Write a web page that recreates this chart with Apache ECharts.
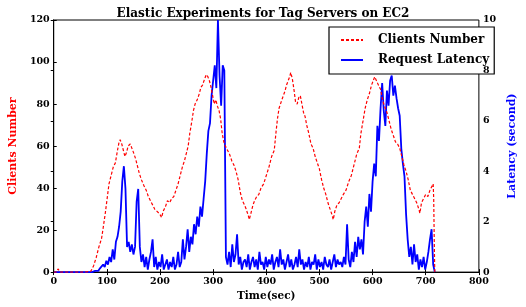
<!DOCTYPE html>
<html>
<head>
<meta charset="utf-8">
<script src="https://cdn.jsdelivr.net/npm/echarts@6/dist/echarts.min.js"></script>
<style>
  html, body { margin: 0; padding: 0; background: #fff; }
  #chart { width: 526px; height: 307px; }
</style>
</head>
<body>
<div id="chart"></div>
<script>
// ---------------- data ----------------
// clients number (left axis), time in seconds
const clientTimes = [0, 5, 8, 10, 12, 20, 30, 40, 50, 60, 70, 75, 80, 85, 90, 93, 97, 100, 104, 108,
  112, 116, 120, 123, 125, 128, 131, 134, 137, 140, 144, 147, 150, 154, 157, 161, 165, 170, 174, 178,
  182, 186, 190, 194, 198, 201, 203, 206, 210, 214, 218, 222, 226, 230, 234, 238, 242, 246, 250, 253,
  256, 260, 263, 266, 270, 274, 277, 280, 284, 287, 290, 293, 296, 299, 302, 305, 308, 311, 314, 317,
  320, 323, 327, 331, 335, 339, 343, 347, 351, 355, 359, 362, 366, 368, 371, 375, 378, 382, 386, 390,
  395, 400, 405, 410, 415, 418, 421, 424, 428, 432, 435, 438, 441, 444, 446, 449, 452, 455, 458, 461,
  464, 467, 470, 473, 476, 480, 484, 488, 492, 496, 500, 504, 508, 512, 516, 520, 524, 526, 529, 533,
  537, 541, 545, 550, 555, 560, 565, 570, 575, 578, 582, 586, 590, 594, 598, 601, 604, 607, 611, 615,
  618, 621, 624, 627, 631, 635, 639, 643, 647, 651, 655, 659, 663, 667, 671, 675, 679, 683, 687, 689,
  692, 696, 700, 704, 708, 712, 714, 715, 716, 717];
const clientValues = [0, 0, 1.5, 1, 0, 0, 0, 0, 0, 0, 0.5, 3, 7, 12, 16, 21, 28, 34, 42, 46,
  50, 52, 58, 62, 63, 61, 58, 55, 57, 60, 61, 59, 57, 54, 51, 47, 44, 41, 39, 36,
  34, 32, 30, 29, 28, 27, 26, 29, 31, 34, 33, 35, 36, 39, 42, 46, 50, 53, 57, 60,
  66, 72, 77, 80, 82, 85, 88, 89, 92, 94, 93, 91, 88, 84, 80, 82, 79, 77, 73, 66,
  62, 60, 58, 56, 53, 51, 48, 44, 38, 34, 32, 30, 27, 25, 28, 32, 34, 36, 37, 40,
  42, 46, 50, 55, 58, 66, 73, 78, 81, 84, 86, 89, 91, 93, 95, 92, 87, 81, 80, 83,
  84, 80, 76, 74, 70, 66, 61, 59, 55, 52, 49, 44, 40, 37, 33, 30, 27, 25, 29, 32,
  33, 35, 37, 39, 43, 46, 51, 56, 59, 66, 72, 78, 82, 85, 89, 91, 93, 93, 89, 87,
  83, 80, 78, 76, 72, 68, 65, 62, 61, 59, 55, 51, 48, 44, 39, 37, 35, 33, 30, 28,
  33, 35, 37, 36, 39, 41, 42, 35, 15, 0];

// request latency (right axis), one sample every 3 seconds from t = 0
const latencyStep = 3;
const latencyValues = [
  0, 0, 0, 0, 0, 0, 0, 0, 0, 0, 0, 0, 0, 0, 0, 0, 0, 0, 0, 0,
  0, 0, 0, 0, 0, 0.02, 0.05, 0.1, 0.05, 0.15, 0.1, 0.3, 0.2, 0.45, 0.3, 0.6, 0.4, 0.9, 0.5, 1.2,
  1.4, 1.8, 2.4, 3.6, 4.2, 3.3, 1.0, 1.2, 0.8, 1.1, 0.7, 1.0, 2.8, 3.3, 1.0, 0.4, 0.7, 0.2, 0.6, 0.1,
  0.5, 0.8, 1.3, 0.2, 0.6, 0.1, 0.4, 0.2, 0.7, 0.1, 0.3, 0.5, 0.1, 0.4, 0.2, 0.6, 0.1, 0.3, 0.8, 0.2,
  0.4, 1.3, 0.5, 1.0, 1.7, 0.8, 1.4, 1.1, 1.9, 1.5, 2.2, 1.8, 2.6, 2.2, 2.9, 3.6, 4.7, 5.6, 5.9, 7.0,
  7.6, 8.2, 7.3, 10.0, 7.8, 6.6, 8.2, 8.0, 0.6, 0.3, 0.8, 0.2, 1.1, 0.4, 0.7, 1.5, 0.3, 0.6, 0.1, 0.4,
  0.5, 0.2, 0.7, 0.1, 0.4, 0.6, 0.2, 0.5, 0.1, 0.8, 0.3, 0.4, 0.1, 0.6, 0.2, 0.5, 0.3, 0.7, 0.1, 0.4,
  0.6, 0.2, 0.9, 0.3, 0.5, 0.1, 0.4, 0.7, 0.2, 0.5, 0.1, 0.3, 0.6, 0.2, 0.9, 0.3, 0.5, 0.1, 0.4, 0.2,
  0.6, 0.1, 0.4, 0.3, 0.7, 0.1, 0.5, 0.2, 0.4, 0.1, 0.6, 0.3, 0.2, 0.5, 0.1, 0.4, 0.7, 0.2, 0.5, 0.3,
  0.4, 0.2, 0.6, 0.3, 1.9, 0.5, 0.2, 0.8, 0.4, 1.2, 0.6, 1.4, 0.9, 1.3, 0.7, 2.0, 2.6, 1.8, 3.1, 2.4,
  3.6, 4.3, 3.8, 5.8, 5.2, 6.5, 7.5, 6.4, 5.8, 7.2, 6.6, 7.6, 7.8, 7.0, 7.4, 6.9, 6.5, 6.2, 4.9, 4.3,
  3.8, 2.3, 1.3, 0.6, 1.0, 0.3, 1.1, 0.4, 0.7, 0.1, 0.5, 0.2, 0.6, 0.1, 0.4, 0.8, 1.3, 1.7, 0.3, 0
];

const titleText = 'Elastic Experiments for Tag Servers on EC2';
const seriesNames = ['Clients Number', 'Request Latency'];

// ---------------- chart ----------------
const FONT = 'DejaVu Serif';
let myChart = echarts.init(document.querySelector('#chart'));

let tickLabel = { fontFamily: FONT, fontWeight: 'bold', fontSize: 9.5, color: '#000', margin: 4 };

let option = {
  animation: false,
  backgroundColor: '#fff',
  title: {
    text: titleText,
    left: 'center',
    top: 3,
    textStyle: { fontFamily: FONT, fontWeight: 'bold', fontSize: 12, color: '#000' }
  },
  grid: {
    left: 38, right: 29, top: 20, bottom: 30,
    show: true, borderColor: '#000', borderWidth: 1
  },
  legend: {
    data: seriesNames,
    orient: 'vertical',
    align: 'left',
    left: 329,
    top: 27,
    itemWidth: 22,
    itemHeight: 10,
    itemGap: 8,
    padding: [7, 5, 8, 11],
    borderColor: '#000',
    borderWidth: 1.2,
    borderRadius: 0,
    backgroundColor: '#fff',
    itemStyle: { opacity: 0 },
    textStyle: { fontFamily: FONT, fontWeight: 'bold', fontSize: 12, color: '#000', padding: [0, 0, 0, 10] }
  },
  xAxis: [
    {
      type: 'value', min: 0, max: 800, interval: 100,
      name: 'Time(sec)', nameLocation: 'middle', nameGap: 15,
      nameTextStyle: { fontFamily: FONT, fontWeight: 'bold', fontSize: 10.5, color: '#000' },
      axisLine: { onZero: false, lineStyle: { color: '#000' } },
      axisTick: { inside: true, length: 3, lineStyle: { color: '#000' } },
      axisLabel: tickLabel,
      splitLine: { show: false }
    },
    {
      type: 'value', min: 0, max: 800, interval: 100, position: 'top',
      axisLine: { show: false },
      axisTick: { inside: true, length: 3, lineStyle: { color: '#000' } },
      axisLabel: { show: false },
      splitLine: { show: false }
    }
  ],
  yAxis: [
    {
      type: 'value', min: 0, max: 120, interval: 20,
      name: 'Clients Number', nameLocation: 'middle', nameGap: 24, nameRotate: 90,
      nameTextStyle: { fontFamily: FONT, fontWeight: 'bold', fontSize: 11, color: '#ff0000' },
      axisLine: { show: true, lineStyle: { color: '#000' } },
      axisTick: { inside: true, length: 3, lineStyle: { color: '#000' } },
      axisLabel: tickLabel,
      splitLine: { show: false }
    },
    {
      type: 'value', min: 0, max: 10, interval: 2, position: 'right', z: 10,
      name: 'Latency (second)', nameLocation: 'middle', nameGap: 19, nameRotate: 90,
      nameTextStyle: { fontFamily: FONT, fontWeight: 'bold', fontSize: 11, color: '#0000ff' },
      axisLine: { show: true, lineStyle: { color: '#000' } },
      axisTick: { inside: true, length: 3, lineStyle: { color: '#000' } },
      axisLabel: tickLabel,
      splitLine: { show: false }
    }
  ],
  series: [
    {
      name: 'Request Latency',
      type: 'line',
      yAxisIndex: 1,
      showSymbol: false,
      symbol: 'none',
      color: '#0000ff',
      lineStyle: { color: '#0000ff', width: 1.8 },
      data: latencyValues.map((v, i) => [i * latencyStep, v])
    },
    {
      name: 'Clients Number',
      type: 'line',
      yAxisIndex: 0,
      showSymbol: false,
      symbol: 'none',
      color: '#ff0000',
      lineStyle: { color: '#ff0000', width: 1.2, type: [3, 2] },
      data: clientTimes.map((t, i) => [t, clientValues[i]])
    }
  ]
};
myChart.setOption(option);
</script>
</body>
</html>
